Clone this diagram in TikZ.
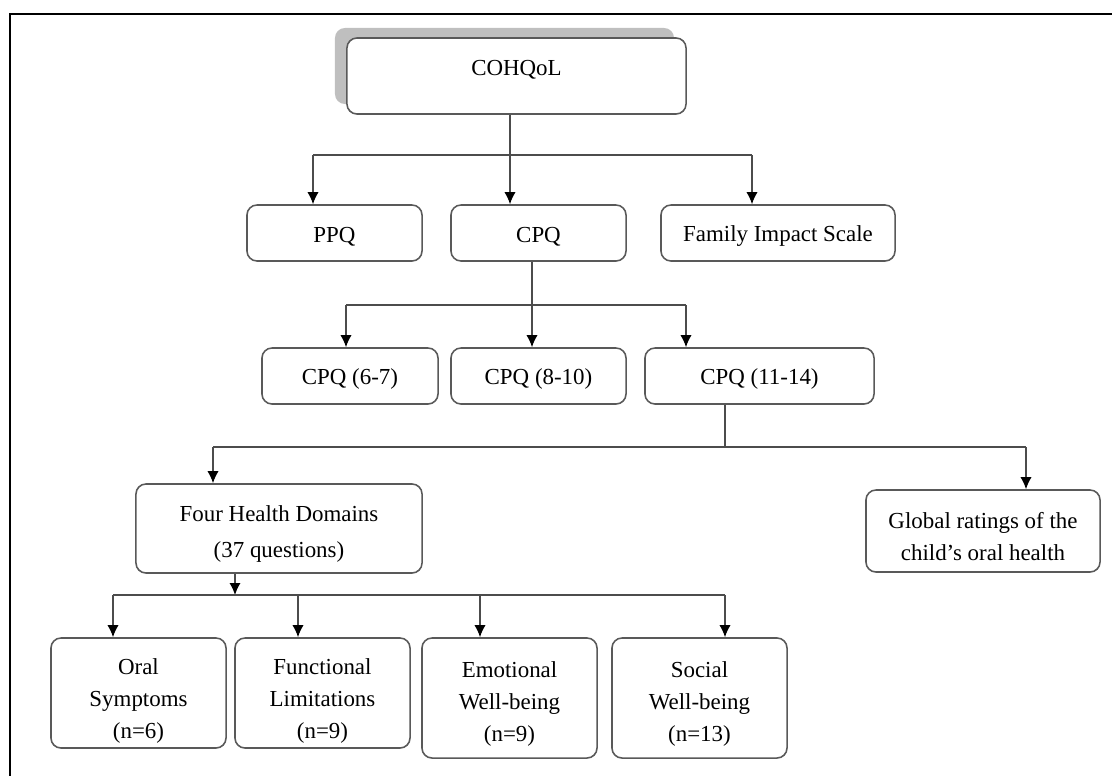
\documentclass[tikz,border=0pt]{standalone}
\usepackage{fontspec}
\setmainfont{Liberation Serif}
\usetikzlibrary{arrows.meta,shadows}

% extra room above the first line, pushes box text down a little
\newcommand{\topgap}[1][1.2em]{\rule{0pt}{#1}}

\begin{document}
\begin{tikzpicture}[x=0.025cm, y=-0.025cm, >={Latex[length=0.3cm,width=0.28cm,black]}]

% --- Styles ---
\tikzset{
    box/.style={draw=black!65, line width=1.1pt, rounded corners=0.25cm, fill=white,
        align=center, inner sep=0pt, font=\fontsize{16.3}{22.8}\selectfont},
    topbox/.style={box, drop shadow={shadow xshift=-0.3cm, shadow yshift=0.25cm,
        fill=black!25, opacity=1}},
    link/.style={draw=black!70, line width=1pt},
    arrow/.style={link, ->},
    frame/.style={draw=black, line width=1.4pt}
}

\useasboundingbox (0,0) rectangle (1112,776);

% --- Frame (top and left edge only) ---
\draw[frame] (1130,14) -| (10,790);

% --- Level 0 ---
\node[topbox, minimum width=8.475cm, minimum height=1.9cm, text depth=0.4cm] (cohqol) at (516.5,76) {COHQoL};

% --- Level 1 ---
\node[box, minimum width=4.375cm, minimum height=1.4cm] (ppq) at (334.5,233) {\topgap[0.95em]PPQ};
\node[box, minimum width=4.375cm, minimum height=1.4cm] (cpq) at (538.5,233) {\topgap[0.95em]CPQ};
\node[box, minimum width=5.85cm,  minimum height=1.4cm] (fis) at (778,233) {\topgap[0.95em]Family Impact Scale};

% --- Level 2: age groups ---
\node[box, minimum width=4.4cm,   minimum height=1.4cm] (cpqA) at (350,376) {\topgap[0.95em]CPQ (6-7)};
\node[box, minimum width=4.375cm, minimum height=1.4cm] (cpqB) at (538.5,376) {\topgap[0.95em]CPQ (8-10)};
\node[box, minimum width=5.725cm, minimum height=1.4cm] (cpqC) at (759.5,376) {\topgap[0.95em]CPQ (11-14)};

% --- Level 3 ---
\node[box, minimum width=7.15cm, minimum height=2.225cm,
      font=\fontsize{16.3}{25.6}\selectfont] (domains) at (279,528.5) {\topgap Four Health Domains\\(37 questions)};
\node[box, minimum width=5.85cm, minimum height=2.05cm] (global) at (983,531) {\topgap Global ratings of the\\child’s oral health};

% --- Level 4: the four domains ---
\node[box, minimum width=4.375cm, minimum height=2.75cm] (oral) at (138.5,693) {\topgap[1.4em]Oral\\Symptoms\\(n=6)};
\node[box, minimum width=4.375cm, minimum height=2.75cm] (func) at (322.5,693) {\topgap[1.4em]Functional\\Limitations\\(n=9)};
\node[box, minimum width=4.375cm, minimum height=3cm]    (emo)  at (509.5,698) {\topgap Emotional\\Well-being\\(n=9)};
\node[box, minimum width=4.375cm, minimum height=3cm]    (soc)  at (699.5,698) {\topgap Social\\Well-being\\(n=13)};

% ==========================================
% --- Connectors ---
% ==========================================

% COHQoL -> PPQ, CPQ, FIS
\coordinate (b1)  at (510,155);
\coordinate (b1l) at (313,155);
\coordinate (b1r) at (752,155);
\draw[link] (b1 |- cohqol.south) -- (b1);
\draw[link] (b1l) -- (b1r);
\draw[arrow] (b1l) -- (b1l |- ppq.north);
\draw[arrow] (b1)  -- (b1 |- cpq.north);
\draw[arrow] (b1r) -- (b1r |- fis.north);

% CPQ -> age groups
\coordinate (b2)  at (532,305);
\coordinate (b2l) at (346,305);
\coordinate (b2r) at (686,305);
\draw[link] (b2 |- cpq.south) -- (b2);
\draw[link] (b2l) -- (b2r);
\draw[arrow] (b2l) -- (b2l |- cpqA.north);
\draw[arrow] (b2)  -- (b2 |- cpqB.north);
\draw[arrow] (b2r) -- (b2r |- cpqC.north);

% CPQ (11-14) -> domains, global ratings
\coordinate (b3)  at (725,447);
\coordinate (b3l) at (213,447);
\coordinate (b3r) at (1026,447);
\draw[link] (b3 |- cpqC.south) -- (b3);
\draw[link] (b3l) -- (b3r);
\draw[arrow] (b3l) -- (b3l |- domains.north);
\draw[arrow] (b3r) -- (b3r |- global.north);

% domains -> four boxes
\coordinate (b4)  at (235,595);
\coordinate (b4a) at (113,595);
\coordinate (b4b) at (298,595);
\coordinate (b4c) at (480,595);
\coordinate (b4d) at (725,595);
\draw[arrow] (b4 |- domains.south) -- (b4);
\draw[link] (b4a) -- (b4d);
\draw[arrow] (b4a) -- (b4a |- oral.north);
\draw[arrow] (b4b) -- (b4b |- func.north);
\draw[arrow] (b4c) -- (b4c |- emo.north);
\draw[arrow] (b4d) -- (b4d |- soc.north);

\end{tikzpicture}
\end{document}
